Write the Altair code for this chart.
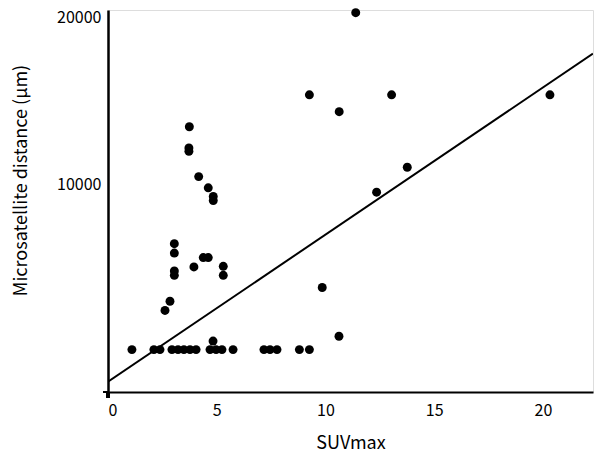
import altair as alt
import pandas as pd

# SUVmax values
suv = [3.74, 3.72, 3.72, 4.17, 4.61, 4.84, 4.84,
       3.05, 3.05, 3.05, 3.05, 3.95, 4.38, 4.61, 5.30, 5.30, 2.85, 2.62,
       11.39, 9.26, 10.63, 13.04, 20.32, 13.76, 12.35, 9.85, 4.83, 10.62,
       1.10, 2.11, 2.39, 2.94, 3.22, 3.49, 3.77, 4.05, 4.69, 4.97, 5.24, 5.75,
       7.17, 7.45, 7.77, 8.80, 9.26]
# Microsatellite distance (um)
dist = [13320, 12050, 11850, 10340, 9670, 9150, 8910,
        6330, 5770, 4700, 4440, 4940, 5500, 5500, 4980, 4440, 2890, 2340,
        20140, 15230, 14220, 15230, 15230, 10900, 9410, 3710, 510, 800,
        0, 0, 0, 0, 0, 0, 0, 0, 0, 0, 0, 0,
        0, 0, 0, 0, 0]

# regression line end points
line_x = [0, 22.3]
line_y = [-1920, 17690]

x_ticks = [0, 5, 10, 15, 20]
y_ticks = [10000, 20000]

pts = pd.DataFrame({"suv": suv, "dist": dist})
ln = pd.DataFrame({"suv": line_x, "dist": line_y})

FONT = "Noto Sans CJK JP"
H = 382

xscale = alt.Scale(domain=[0, 22.3], nice=False, zero=False)
yscale = alt.Scale(domain=[-2534, 20299], nice=False, zero=False)

xaxis = alt.Axis(values=x_ticks, title="SUVmax", ticks=False, grid=False,
                 domainColor="black", domainWidth=2, labelFontSize=16,
                 labelFont=FONT, labelColor="black", labelPadding=10,
                 titleFont=FONT, titleFontSize=18, titleFontWeight="normal",
                 titleColor="black", titlePadding=16)
yaxis = alt.Axis(values=y_ticks, format="d", title="Microsatellite distance (μm)",
                 ticks=False, grid=False, domainColor="black", domainWidth=2.5,
                 labelFontSize=16, labelFont=FONT, labelColor="black", labelPadding=7,
                 labelOffset=2,
                 titleFont=FONT, titleFontSize=18, titleFontWeight="normal",
                 titleColor="black", titleX=-87, titleY=170, titleAngle=270,
                 titleAlign="center", titleBaseline="middle")

points = alt.Chart(pts).mark_circle(size=80, color="black", opacity=1).encode(
    x=alt.X("suv:Q", scale=xscale, axis=xaxis),
    y=alt.Y("dist:Q", scale=yscale, axis=yaxis),
)

line = alt.Chart(ln).mark_line(color="black", strokeWidth=2, clip=True).encode(
    x=alt.X("suv:Q", scale=xscale),
    y=alt.Y("dist:Q", scale=yscale),
)

cross_v = alt.Chart(pts).mark_rule(color="black", strokeWidth=2.5).encode(
    x=alt.value(0), y=alt.value(H), y2=alt.value(H + 6))
cross_h = alt.Chart(pts).mark_rule(color="black", strokeWidth=2).encode(
    x=alt.value(-5), x2=alt.value(0), y=alt.value(H))

chart = alt.layer(line, points, cross_v, cross_h).properties(
    width=485, height=H,
    autosize=alt.AutoSizeParams(type="none"),
    padding={"left": 100, "top": 2, "right": 1, "bottom": 62},
).configure_view(stroke="black", strokeWidth=2).configure(background="white")

chart.save("out.html", embed_options={"renderer": "svg", "actions": False})
